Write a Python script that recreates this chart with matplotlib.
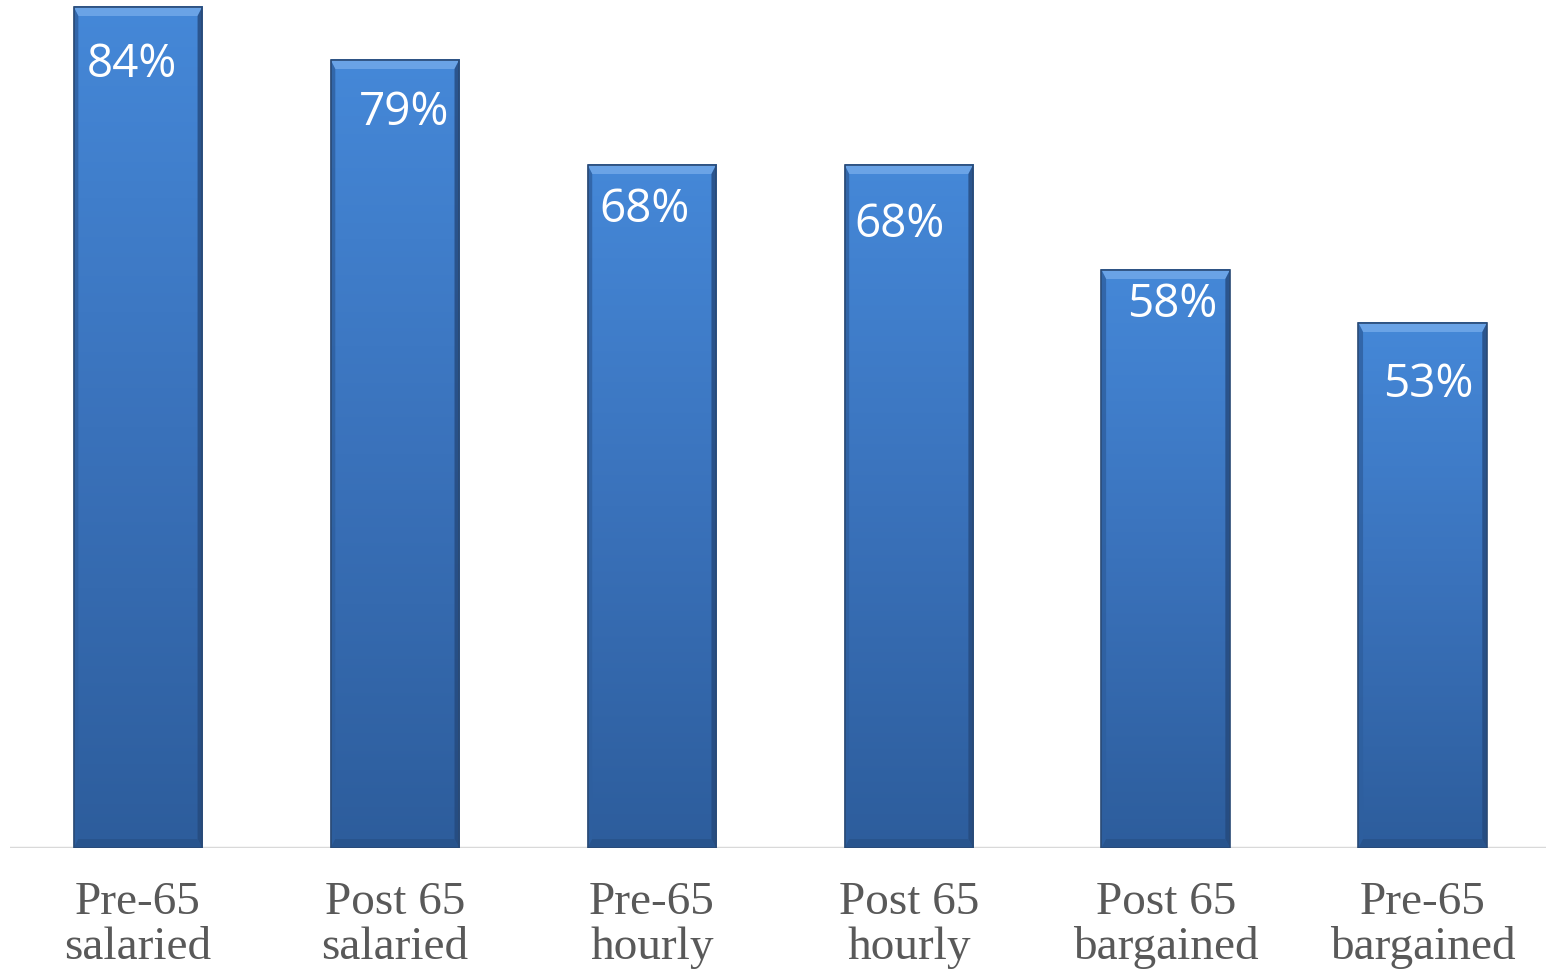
import numpy as np
import matplotlib
matplotlib.use("Agg")
import matplotlib.pyplot as plt
from matplotlib.colors import LinearSegmentedColormap
from matplotlib.patches import Polygon

categories = ["Pre-65\nsalaried", "Post 65\nsalaried", "Pre-65\nhourly",
              "Post 65\nhourly", "Post 65\nbargained", "Pre-65\nbargained"]
values = [84.1, 78.8, 68.3, 68.3, 57.8, 52.5]
labels = ["84%", "79%", "68%", "68%", "58%", "53%"]

# Excel-ish label placement (offsets below the bar top, in data units; x shift)
label_dy = [5.8, 5.3, 4.5, 6.0, 3.5, 6.2]
label_dx = [-0.025, 0.035, -0.03, -0.035, 0.025, 0.02]

fig = plt.figure(figsize=(15.46, 9.72), dpi=100)
ax = fig.add_axes([10 / 1546, (972 - 848) / 972, 1 - 10 / 1546, 848 / 972])

x = np.arange(len(values))
w = 0.5
grad = LinearSegmentedColormap.from_list("bar", ["#2d5d9c", "#3a72bb", "#4588d8"])
img = np.linspace(0, 1, 256).reshape(-1, 1)

for xi, v in zip(x, values):
    left, right = xi - w / 2, xi + w / 2
    ax.imshow(img, cmap=grad, origin="lower", aspect="auto",
              extent=(left, right, 0, v), zorder=2, interpolation="bicubic")
    # bevel: light top, darker sides and bottom
    bx, by = 0.018, 0.9
    ax.add_patch(Polygon([(left, v), (right, v), (right - bx, v - by), (left + bx, v - by)],
                         closed=True, facecolor="#6aa3e6", edgecolor="none", zorder=3))
    ax.add_patch(Polygon([(left, 0), (left, v), (left + bx, v - by), (left + bx, by)],
                         closed=True, facecolor="#2e5f9f", edgecolor="none", zorder=3, alpha=0.8))
    ax.add_patch(Polygon([(right, 0), (right, v), (right - bx, v - by), (right - bx, by)],
                         closed=True, facecolor="#25497c", edgecolor="none", zorder=3, alpha=0.8))
    ax.add_patch(Polygon([(left, 0), (right, 0), (right - bx, by), (left + bx, by)],
                         closed=True, facecolor="#27528a", edgecolor="none", zorder=3, alpha=0.8))
    ax.add_patch(plt.Rectangle((left, 0), w, v, fill=False, edgecolor="#2a4a75",
                               linewidth=1.2, zorder=4))

for xi, v, lab, dy, dx in zip(x, values, labels, label_dy, label_dx):
    ax.text(xi + dx, v - dy, lab, ha="center", va="center", color="white",
            fontsize=33, family=["Open Sans", "DejaVu Sans"], zorder=5)

ax.set_xlim(-0.498, 5.48)
ax.set_ylim(0, 84.8)
ax.axhline(0, color="#d9d9d9", linewidth=2.5, zorder=1)

for s in ax.spines.values():
    s.set_visible(False)
ax.set_yticks([])
ax.set_xticks(x)
ax.set_xticklabels(categories, family=["Liberation Serif", "DejaVu Serif"],
                   fontsize=34, color="#595959", linespacing=1.08)
ax.tick_params(axis="x", length=0, pad=24)

fig.savefig("out.png", dpi=100)
